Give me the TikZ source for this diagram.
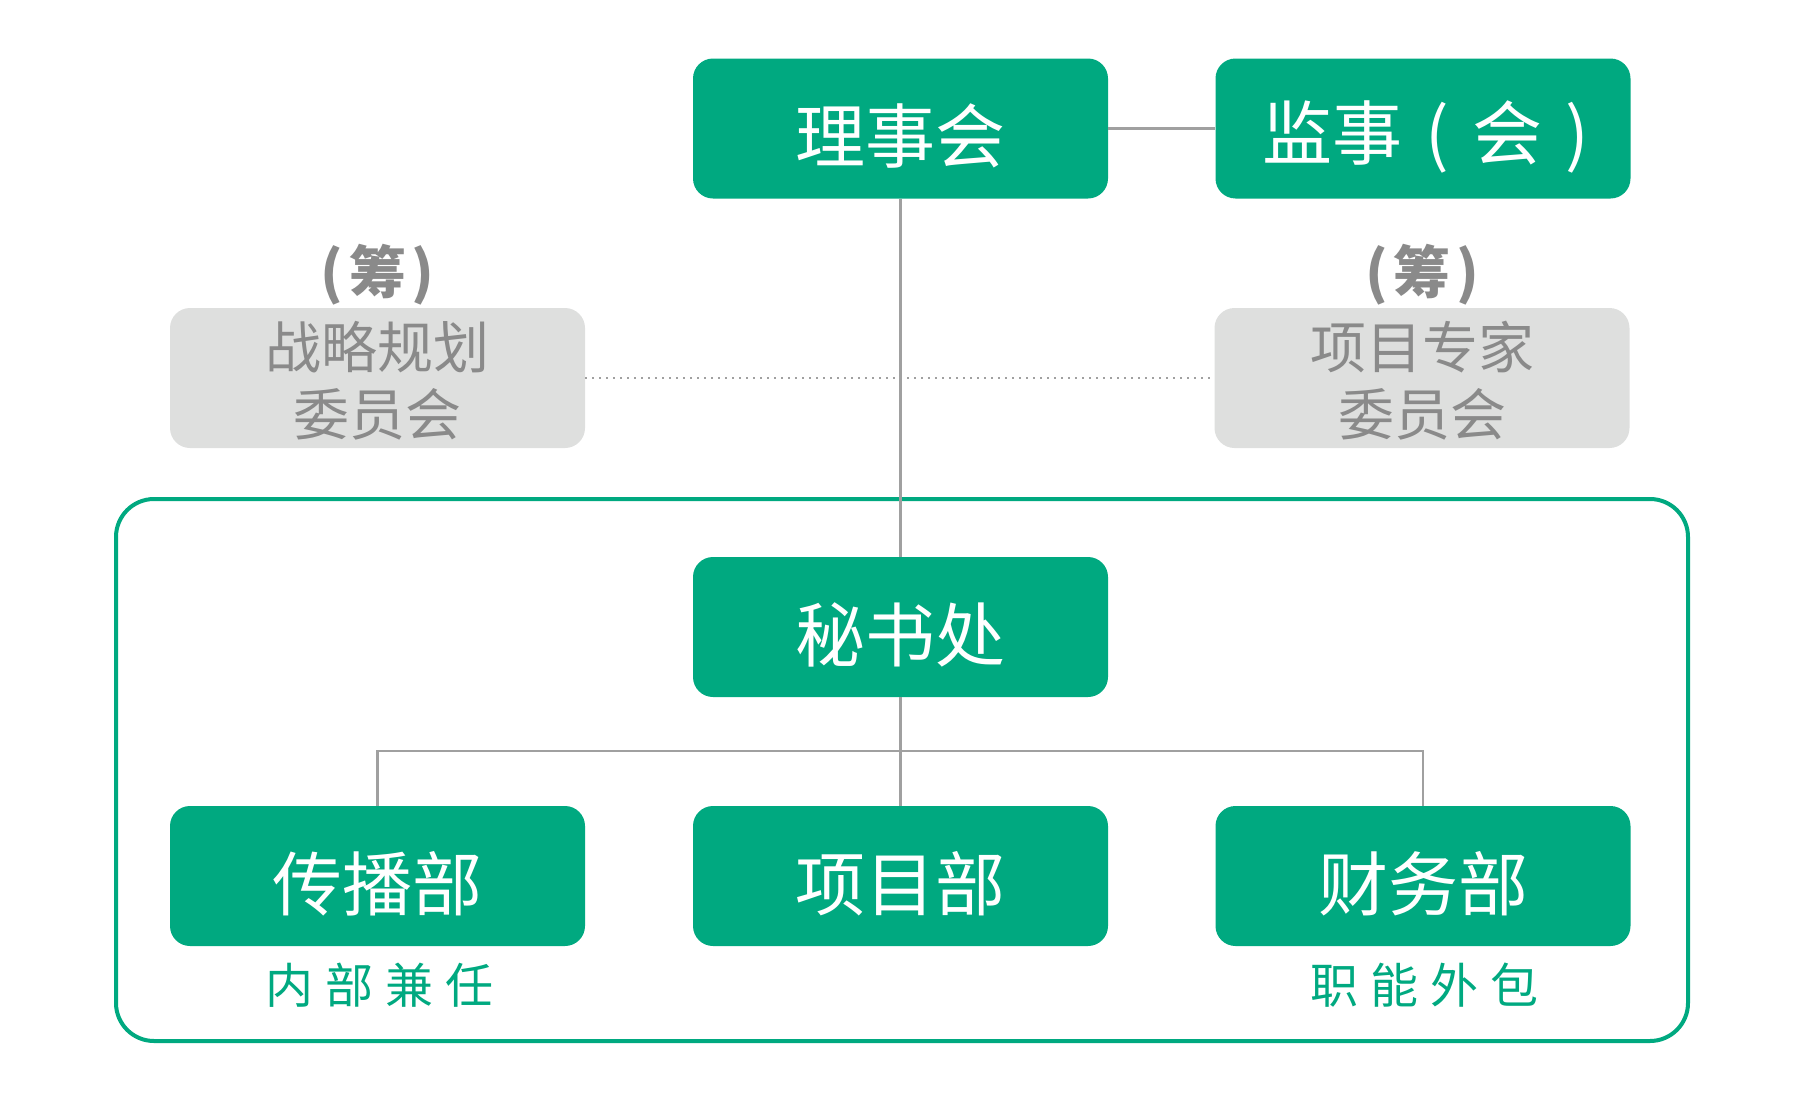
\documentclass[tikz,border=0pt]{standalone}
\usepackage{fontspec}
\setmainfont{Noto Sans CJK SC}
\definecolor{mygreen}{RGB}{0,169,128}
\definecolor{boxgray}{RGB}{222,223,222}
\definecolor{txtgray}{RGB}{138,138,138}
\definecolor{linegray}{RGB}{160,160,160}
\newcommand{\pc}[1]{\makebox[1em]{#1}}
\newcommand{\pn}[1]{\makebox[0.6em]{#1}}
\newcommand{\dn}[2][-8pt]{\raisebox{#1}[\height][\depth]{#2}}
\newcommand{\two}[2]{\dn[-10pt]{\begin{tabular}{@{}c@{}}#1\\#2\end{tabular}}}
\begin{document}
\begin{tikzpicture}[x=1pt,y=-1pt,
  greenbox/.style={rectangle, rounded corners=20pt, fill=mygreen, text=white,
    minimum width=415pt, minimum height=140pt, inner sep=0pt,
    font=\fontsize{70}{74}\selectfont},
  graybox/.style={rectangle, rounded corners=20pt, fill=boxgray, text=txtgray,
    minimum width=415pt, minimum height=140pt, inner sep=0pt,
    font=\fontsize{56}{67}\selectfont},
  prep/.style={text=txtgray, inner sep=0pt, font=\fontsize{57}{60}\selectfont\bfseries},
  note/.style={text=mygreen, inner sep=0pt, font=\fontsize{48}{50}\selectfont},
  conn/.style={draw=linegray, line width=2.5pt},
  dots/.style={draw=linegray, line width=1.6pt, dash pattern=on 1.6pt off 5.4pt}]
\useasboundingbox (0,0) rectangle (1800,1095);
% outer frame
\draw[mygreen, line width=4pt, rounded corners=38pt] (116,499) rectangle (1688,1041);
% nodes
\node[greenbox] (board) at (900.5,128.5) {\dn{理事会}};
\node[greenbox] (sup) at (1423,128.5) {\dn{监事\pc{(}会\pc{)}\hspace{-0.4em}}};
\node[graybox] (strat) at (377.5,378) {\two{战略规划}{委员会}};
\node[graybox] (expert) at (1422,378) {\two{项目专家}{委员会}};
\node[prep] (p1) at (377.5,275) {\pn{(}筹\pn{)}};
\node[prep] (p2) at (1422,275) {\pn{(}筹\pn{)}};
\node[greenbox] (sec) at (900.5,627) {\dn{秘书处}};
\node[greenbox] (comm) at (377.5,876) {\dn{传播部}};
\node[greenbox] (proj) at (900.5,876) {\dn{项目部}};
\node[greenbox] (fin) at (1423,876) {\dn{财务部}};
\node[note] (n1) at (379,985) {内\hspace{12pt}部\hspace{12pt}兼\hspace{12pt}任};
\node[note] (n2) at (1424,985) {职\hspace{12pt}能\hspace{12pt}外\hspace{12pt}包};
\coordinate (bus) at (900.5,751);
% connectors
\draw[dots] (strat.east) -- (expert.west);
\draw[conn] (board.east) -- (sup.west);
\draw[conn] (board.south) -- (sec.north);
\draw[conn] (sec.south) -- (proj.north);
\draw[conn] (comm.north) |- (bus) -| (fin.north);
\end{tikzpicture}
\end{document}
